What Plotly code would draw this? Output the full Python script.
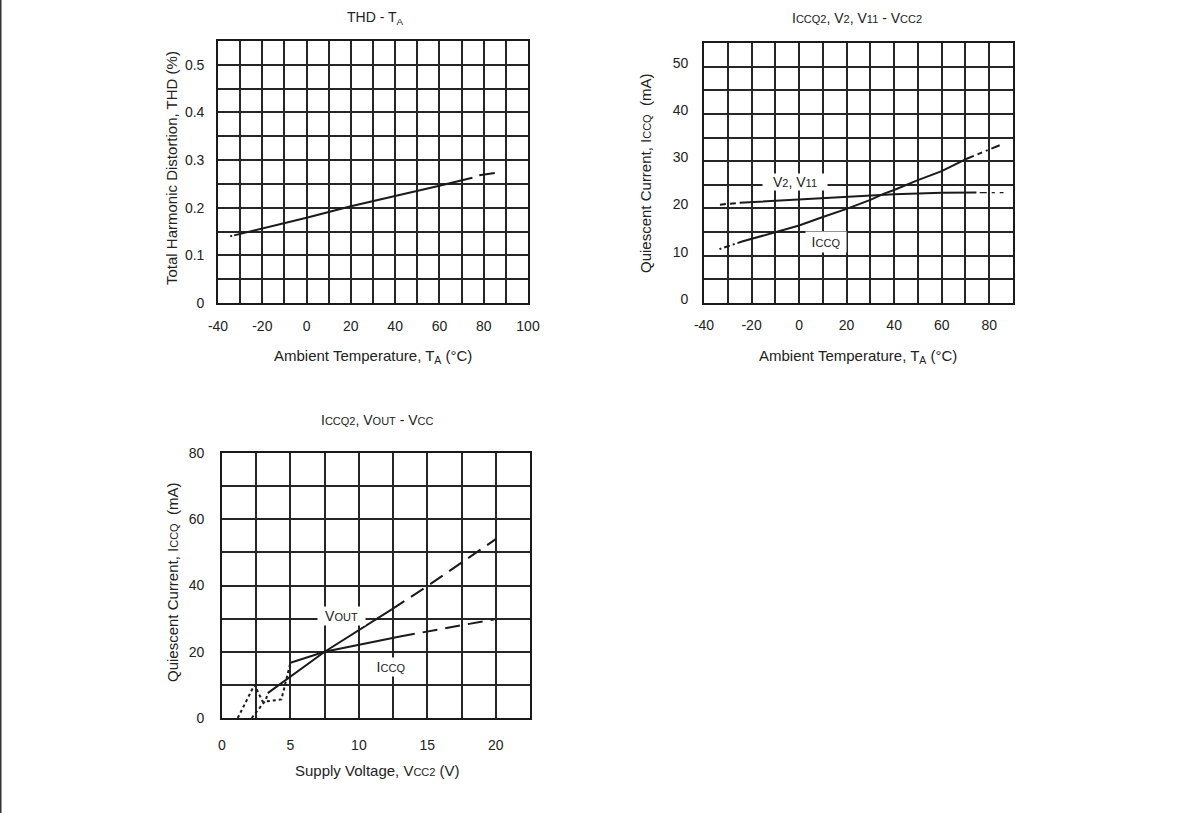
import plotly.graph_objects as go

W, H = 1190, 813

# ---------------- Data ----------------
# Chart 1: THD vs ambient temperature
thd_start_x = [-34.5, -33.5]
thd_start_y = [0.140, 0.141]
thd_solid_x = [-32.7, -20, 0, 20, 40, 60, 74.9]
thd_solid_y = [0.142, 0.156, 0.179, 0.203, 0.224, 0.246, 0.263]
thd_end_x = [78, 85]
thd_end_y = [0.268, 0.273]

# Chart 2: Iccq2, V2, V11 vs ambient temperature
v2_start_x = [-33.3, -25]
v2_start_y = [20.8, 21.2]
v2_solid_x = [-25, -10, 0, 20, 40, 60, 74.6]
v2_solid_y = [21.2, 21.6, 22.0, 22.5, 23.0, 23.3, 23.4]
v2_end_x = [76, 86]
v2_end_y = [23.35, 23.35]

icc_start_x = [-33.5, -24]
icc_start_y = [11.4, 13.0]
icc_solid_x = [-24, -10, 0, 10, 20, 30, 36, 40, 50, 60, 70]
icc_solid_y = [13.0, 14.9, 16.4, 18.2, 19.9, 21.8, 23.2, 23.9, 26.0, 27.9, 30.4]
icc_end_x = [70, 85]
icc_end_y = [30.4, 33.5]

# Chart 3: Iccq2, Vout vs supply voltage
lowA_x = [1.15, 2.37, 2.98, 4.34, 5.0]
lowA_y = [0.0, 10.0, 4.9, 5.6, 16.7]
lowB_x = [2.17, 3.2, 3.34]
lowB_y = [0.0, 5.4, 7.5]
vout_solid_x = [3.34, 7.5, 12.4]
vout_solid_y = [7.5, 20.0, 32.8]
vout_dash_x = [12.4, 15, 20]
vout_dash_y = [32.8, 39.8, 54.0]
iccv_solid_x = [5.0, 7.5, 13.0]
iccv_solid_y = [16.7, 20.0, 24.6]
iccv_dash_x = [13.0, 19.9]
iccv_dash_y = [24.6, 29.8]

# tick labels
c1_xticks = [-40, -20, 0, 20, 40, 60, 80, 100]
c1_xticktext = ["-40", "-20", "0", "20", "40", "60", "80", "100"]
c1_yticks = [0, 0.1, 0.2, 0.3, 0.4, 0.5]
c1_yticktext = ["0", "0.1", "0.2", "0.3", "0.4", "0.5"]
c2_xticks = [-40, -20, 0, 20, 40, 60, 80]
c2_xticktext = ["-40", "-20", "0", "20", "40", "60", "80"]
c2_yticks = [0, 10, 20, 30, 40, 50]
c3_xticks = [0, 5, 10, 15, 20]
c3_yticks = [0, 20, 40, 60, 80]

# ---------------- Styling ----------------
FONT = "Liberation Sans, Arial, sans-serif"
INK = "#1a1a1a"
GRID = "#262626"


def sc(s, size=11):
    return f"<span style='font-size:{size}px'>{s}</span>"


def px_x(p):
    return p / W


def px_y(p):
    return 1 - p / H


fig = go.Figure()


def line(x, y, ax, dash="solid", width=2.0):
    fig.add_trace(go.Scatter(
        x=x, y=y, mode="lines", xaxis=ax[0], yaxis=ax[1],
        line=dict(color=INK, width=width, dash=dash),
        hoverinfo="skip", showlegend=False))


A1 = ("x", "y")
A2 = ("x2", "y2")
A3 = ("x3", "y3")

# chart 1
line(thd_start_x, thd_start_y, A1, dash="2px,3px")
line(thd_solid_x, thd_solid_y, A1)
line(thd_end_x, thd_end_y, A1)

# chart 2
line(v2_start_x, v2_start_y, A2, dash="6px,4px")
line(v2_solid_x, v2_solid_y, A2)
line(v2_end_x, v2_end_y, A2, dash="7px,5px,3px,5px", width=1.3)
line(icc_start_x, icc_start_y, A2, dash="2px,3px,6px,3px")
line(icc_solid_x, icc_solid_y, A2)
line(icc_end_x, icc_end_y, A2, dash="9px,4px,5px,4px,2px,4px")

# chart 3
line(lowA_x, lowA_y, A3, dash="3px,3px")
line(lowB_x, lowB_y, A3, dash="3px,3px")
line(vout_solid_x, vout_solid_y, A3)
line(vout_dash_x, vout_dash_y, A3, dash="15px,8px")
line(iccv_solid_x, iccv_solid_y, A3)
line(iccv_dash_x, iccv_dash_y, A3, dash="15px,8px")


def axis(domain, rng, tickvals, minor_dtick, ticktext=None, standoff=8, shift=0):
    d = dict(
        domain=domain, range=rng, autorange=False, fixedrange=True,
        automargin=False,
        showline=True, mirror=True, linecolor=INK, linewidth=1.6,
        showgrid=True, gridcolor=GRID, gridwidth=1.5,
        zeroline=False, ticks="",
        tickmode="array", tickvals=tickvals,
        tickfont=dict(family=FONT, size=14, color="#222"),
        ticklabelstandoff=standoff,
        minor=dict(dtick=minor_dtick, tick0=rng[0], showgrid=True,
                   gridcolor=GRID, gridwidth=1.5, ticks=""),
    )
    if ticktext is not None:
        d["ticktext"] = ticktext
    if shift:
        d["ticklabelshift"] = shift
    return d


fig.update_layout(
    width=W, height=H, autosize=False,
    margin=dict(l=0, r=0, t=0, b=0, pad=0, autoexpand=False),
    paper_bgcolor="white", plot_bgcolor="white",
    font=dict(family=FONT, size=14, color="#222"),
    xaxis=dict(axis([px_x(218), px_x(528)], [-40, 100], c1_xticks, 10,
                    ticktext=c1_xticktext, standoff=9), anchor="y"),
    yaxis=dict(axis([px_y(303), px_y(41)], [0, 0.55], c1_yticks, 0.05,
                    ticktext=c1_yticktext, standoff=9), anchor="x"),
    xaxis2=dict(axis([px_x(704), px_x(1013)], [-40, 90], c2_xticks, 10,
                     ticktext=c2_xticktext, standoff=8), anchor="y2"),
    yaxis2=dict(axis([px_y(303), px_y(43)], [0, 55], c2_yticks, 5, standoff=11, shift=-4), anchor="x2"),
    xaxis3=dict(axis([px_x(222), px_x(530)], [0, 22.5], c3_xticks, 2.5, standoff=13), anchor="y3"),
    yaxis3=dict(axis([px_y(718), px_y(453)], [0, 80], c3_yticks, 10, standoff=13), anchor="x3"),
)

ann = []


def text(s, x, y, size=14, angle=0):
    ann.append(dict(text=s, x=px_x(x), y=px_y(y), xref="paper", yref="paper",
                    showarrow=False, xanchor="center", yanchor="middle",
                    textangle=angle, font=dict(family=FONT, size=size, color="#222")))


# titles
text("THD - T<sub>A</sub>", 375, 18)
text("I" + sc("CCQ2") + ", V" + sc("2") + ", V" + sc("11") + " - V" + sc("CC2"), 857, 18)
text("I" + sc("CCQ2") + ", V" + sc("OUT") + " - V" + sc("CC"), 377, 420)

# axis titles
text("Ambient Temperature, T<sub>A</sub> (°C)", 373, 356, size=15)
text("Total Harmonic Distortion, THD (%)", 172, 168, size=15, angle=-90)
text("Ambient Temperature, T<sub>A</sub> (°C)", 858, 356, size=15)
text("Quiescent Current, I" + sc("CCQ") + "  (mA)", 645, 173, size=15, angle=-90)
text("Supply Voltage, V" + sc("CC2") + " (V)", 377, 770, size=15)
text("Quiescent Current, I" + sc("CCQ") + "  (mA)", 172, 582, size=15, angle=-90)


# in-plot labels with white boxes
def label(s, x, y, xref, yref, w, h):
    ann.append(dict(text=s, x=x, y=y, xref=xref, yref=yref, showarrow=False,
                    xanchor="center", yanchor="middle", width=w, height=h,
                    bgcolor="white", borderpad=0,
                    font=dict(family=FONT, size=14, color="#222")))


label("V" + sc("2") + ", V" + sc("11"), -1.7, 25.7, "x2", "y2", 64, 16)
label("I" + sc("CCQ"), 11.3, 13.0, "x2", "y2", 40, 20)
label("V" + sc("OUT"), 8.75, 30.8, "x3", "y3", 47, 18)
label("I" + sc("CCQ"), 12.37, 15.5, "x3", "y3", 40, 18)

fig.update_layout(annotations=ann)

# dark page edge at the left
fig.add_shape(type="rect", xref="paper", yref="paper", x0=0, x1=1.5 / W, y0=0, y1=1,
              fillcolor="#333", line=dict(width=0), layer="above")

fig.write_html(
    "out.html",
    config={"displayModeBar": False},
    post_script="document.body.style.margin='0';document.body.style.overflow='hidden';",
)
